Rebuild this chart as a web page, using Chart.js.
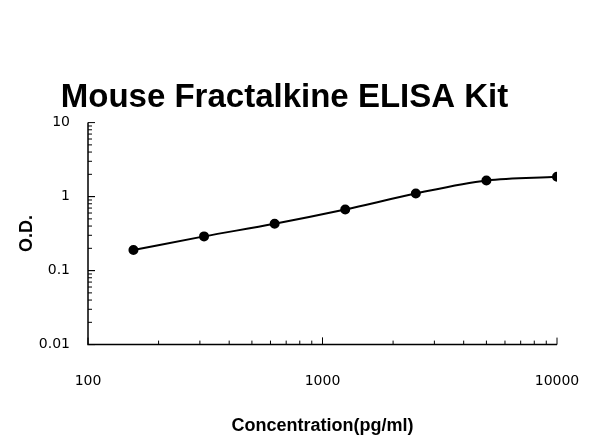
<!DOCTYPE html>
<html><head><meta charset="utf-8">
<script src="https://cdn.jsdelivr.net/npm/chart.js@4"></script>
<style>html,body{margin:0;background:#fff}#w{width:600px;height:447px}</style>
</head><body><div id="w"><canvas id="c"></canvas></div>
<script>
const concentrations = [156.25, 312.5, 625, 1250, 2500, 5000, 10000];
const odValues = [0.19, 0.29, 0.43, 0.67, 1.1, 1.65, 1.85];
const xTickLabels = [100, 1000, 10000];
const yTickLabels = [0.01, 0.1, 1, 10];

const minorTicks = {
  id: 'minorTicks',
  afterDraw(chart) {
    const ctx = chart.ctx, x = chart.scales.x, y = chart.scales.y;
    const a = chart.chartArea;
    ctx.save();
    ctx.strokeStyle = '#000'; ctx.lineWidth = 1.5;
    ctx.beginPath();
    ctx.moveTo(a.left, a.top); ctx.lineTo(a.left, a.bottom); ctx.lineTo(a.right, a.bottom);
    ctx.stroke();
    ctx.lineWidth = 1;
    for (let d = 100; d < 10000; d *= 10) for (let m = 1; m <= 10; m++) {
      const px = x.getPixelForValue(d * m);
      const len = (m === 1 || m === 10) ? 7 : 4;
      ctx.beginPath(); ctx.moveTo(px, a.bottom); ctx.lineTo(px, a.bottom - len); ctx.stroke();
    }
    for (let d = 0.01; d < 10; d *= 10) for (let m = 1; m <= 10; m++) {
      const py = y.getPixelForValue(d * m);
      const len = (m === 1 || m === 10) ? 7 : 4;
      ctx.beginPath(); ctx.moveTo(a.left, py); ctx.lineTo(a.left + len, py); ctx.stroke();
    }
    ctx.restore();
  }
};

new Chart(document.getElementById('c'), {
  type: 'line',
  data: { datasets: [{
    data: concentrations.map((v, i) => ({x: v, y: odValues[i]})),
    borderColor: '#000', backgroundColor: '#000', borderWidth: 2,
    pointRadius: 4, pointHoverRadius: 4, tension: 0.4, cubicInterpolationMode: 'monotone'
  }]},
  options: {
    responsive: true, maintainAspectRatio: false, animation: false,
    layout: { padding: { top: 10, right: 43, left: 12, bottom: 8 } },
    plugins: {
      legend: { display: false }, tooltip: { enabled: false },
      title: { display: true, text: 'Mouse Fractalkine ELISA Kit', color: '#000',
        font: { family: 'Liberation Sans', size: 33, weight: 'bold' }, padding: { top: 68, bottom: 5 } }
    },
    scales: {
      x: { type: 'logarithmic', min: 100, max: 10000,
        grid: { display: false }, border: { display: false },
        afterBuildTicks: s => { s.ticks = xTickLabels.map(v => ({value: v})); },
        ticks: { color: '#000', font: { family: 'DejaVu Sans', size: 14 }, padding: 20, callback: v => String(v), maxRotation: 0 },
        title: { display: true, text: 'Concentration(pg/ml)', color: '#000', font: { family: 'Liberation Sans', size: 18, weight: 'bold' }, padding: { top: 6, bottom: 2 } }
      },
      y: { type: 'logarithmic', min: 0.01, max: 10,
        grid: { display: false }, border: { display: false },
        afterBuildTicks: s => { s.ticks = yTickLabels.map(v => ({value: v})); },
        afterFit: s => { s.width = 76; },
        ticks: { color: '#000', font: { family: 'DejaVu Sans', size: 14 }, padding: 10, callback: v => String(v) },
        title: { display: true, text: 'O.D.', color: '#000', font: { family: 'Liberation Sans', size: 18, weight: 'bold' }, padding: { bottom: 4 } }
      }
    }
  },
  plugins: [minorTicks]
});
</script></body></html>
